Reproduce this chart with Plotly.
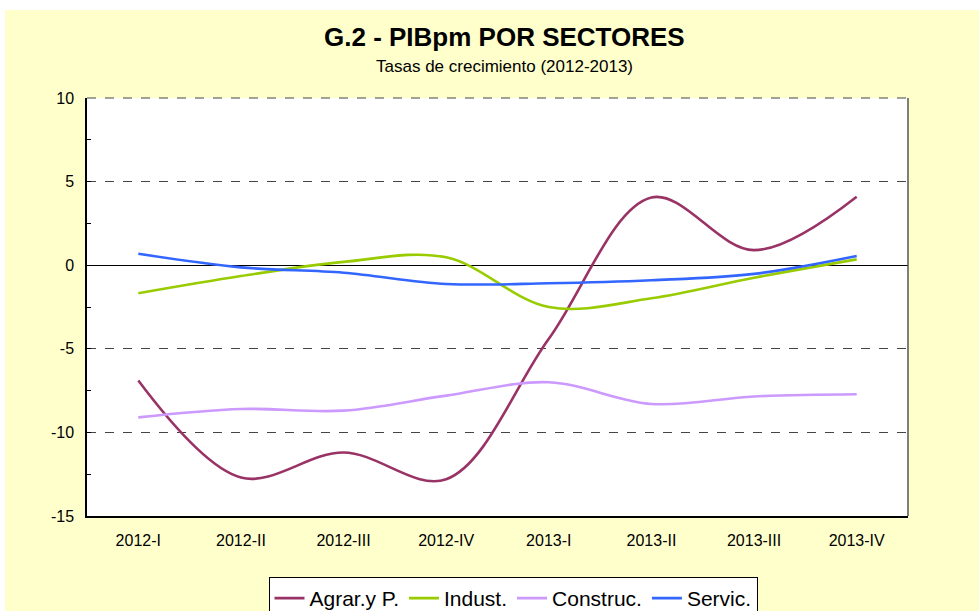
import plotly.graph_objects as go

categories = ["2012-I", "2012-II", "2012-III", "2012-IV", "2013-I", "2013-II", "2013-III", "2013-IV"]
agrar = [-6.9, -12.7, -11.2, -12.8, -4.4, 4.05, 0.9, 4.1]
indust = [-1.68, -0.65, 0.2, 0.47, -2.5, -1.98, -0.75, 0.35]
construc = [-9.1, -8.6, -8.7, -7.8, -7.0, -8.3, -7.85, -7.72]
servic = [0.68, -0.13, -0.45, -1.12, -1.08, -0.9, -0.52, 0.55]

y_tickvals = [-15, -10, -5, 0, 5, 10]
y_ticktext = ["-15", "-10", "-5", "0", "5", "10"]

series = [
    ("Agrar.y P.", agrar, "#993366"),
    ("Indust.", indust, "#99CC00"),
    ("Construc.", construc, "#CC99FF"),
    ("Servic.", servic, "#3366FF"),
]

fig = go.Figure()
for name, vals, col in series:
    fig.add_trace(go.Scatter(
        x=categories, y=vals, name=name, mode="lines",
        line=dict(color=col, width=2.6, shape="spline", smoothing=1.0),
    ))

FONT = "Liberation Sans, Arial, sans-serif"
W, H = 979, 660
L, R, T, B = 87, 979 - 908, 98, 660 - 516
PH = 516 - 98
PW = 908 - 87

fig.update_layout(
    width=W, height=H,
    margin=dict(l=L, r=R, t=T, b=B),
    paper_bgcolor="#FFFFCC",
    plot_bgcolor="white",
    font=dict(family=FONT, size=16, color="black"),
    showlegend=True,
    legend=dict(
        orientation="h", x=(513 - 87) / PW, xanchor="center",
        y=-(577 - 516) / PH, yanchor="top",
        bgcolor="white", bordercolor="black", borderwidth=1,
        font=dict(size=21, family=FONT), tracegroupgap=0,
    ),
    xaxis=dict(
        type="category", range=[-0.5, 7.5],
        showgrid=False, showline=True, linecolor="black", linewidth=1.5,
        ticks="", ticklabelstandoff=9, tickfont=dict(size=16),
        fixedrange=True,
    ),
    yaxis=dict(
        range=[-15, 10], tickvals=y_tickvals, ticktext=y_ticktext,
        showgrid=True, gridcolor="#444444", griddash="dash", gridwidth=1,
        zeroline=True, zerolinecolor="black", zerolinewidth=1,
        showline=True, linecolor="black", linewidth=1.5, mirror=False,
        ticks="inside", ticklen=4, tickcolor="black",
        minor=dict(dtick=2.5, ticks="inside", ticklen=4, tickcolor="black", showgrid=False),
        ticklabelstandoff=8, tickfont=dict(size=16),
    ),
    annotations=[
        dict(text="<b>G.2 - PIBpm POR SECTORES</b>", xref="paper", yref="paper",
             x=(504 - 87) / PW, y=(516 - 37) / PH, xanchor="center", yanchor="middle",
             showarrow=False, font=dict(size=26, family=FONT)),
        dict(text="Tasas de crecimiento (2012-2013)", xref="paper", yref="paper",
             x=(504 - 87) / PW, y=(516 - 66) / PH, xanchor="center", yanchor="middle",
             showarrow=False, font=dict(size=17, family=FONT)),
    ],
    shapes=[
        # right border of plot area
        dict(type="line", xref="paper", yref="paper", x0=1, x1=1, y0=0, y1=1,
             line=dict(color="#555555", width=1.5)),
        # dashed top border
        dict(type="line", xref="paper", yref="paper", x0=0, x1=1, y0=1, y1=1,
             line=dict(color="#444444", width=1, dash="dash")),
        # white band at top and left edge of the page
        dict(type="rect", xref="paper", yref="paper",
             x0=-L / PW, x1=(W - L) / PW, y0=(516 - 10) / PH, y1=(516) / PH + 0.01,
             fillcolor="white", line=dict(width=0), layer="above"),
        dict(type="rect", xref="paper", yref="paper",
             x0=-L / PW - 0.01, x1=(5 - L) / PW, y0=-B / PH, y1=516 / PH + 0.01,
             fillcolor="white", line=dict(width=0), layer="above"),
    ],
)

fig.write_html(
    "out.html",
    config={"displayModeBar": False},
    post_script="document.body.style.margin='0';document.body.style.overflow='hidden';"
                "document.documentElement.style.overflow='hidden';",
)
